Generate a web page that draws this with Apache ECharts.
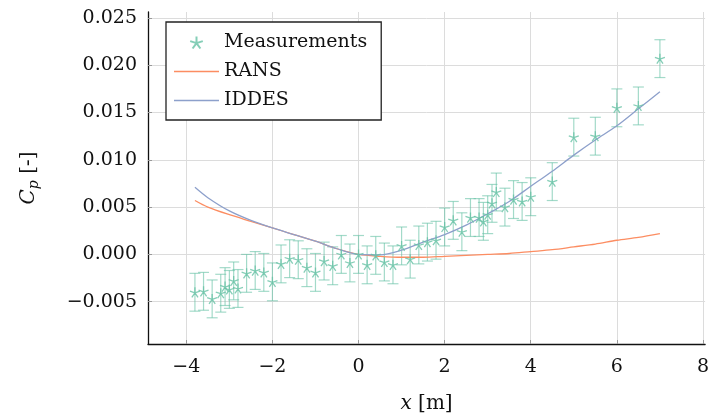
<!DOCTYPE html>
<html><head><meta charset="utf-8">
<script src="https://cdn.jsdelivr.net/npm/echarts@6/dist/echarts.min.js"></script>
<style>html,body{margin:0;padding:0;background:#fff}#c{width:712px;height:419px}</style>
</head><body><div id="c"></div>
<script>
// Measurements (x [m], Cp, error half-width)
const measX = [-3.8,-3.6,-3.4,-3.2,-3.1,-3.0,-2.9,-2.8,-2.6,-2.4,-2.2,-2.0,-1.8,-1.6,-1.4,-1.2,-1.0,-0.8,-0.6,-0.4,-0.2,0.0,0.2,0.4,0.6,0.8,1.0,1.2,1.4,1.6,1.8,2.0,2.2,2.4,2.6,2.8,2.9,3.0,3.1,3.2,3.4,3.6,3.8,4.0,4.5,5.0,5.5,6.0,6.5,7.0];
const measY = [-0.0040,-0.0039,-0.0047,-0.0041,-0.0034,-0.0037,-0.0028,-0.0036,-0.0020,-0.0017,-0.0019,-0.0029,-0.0010,-0.00045,-0.00056,-0.0014,-0.0019,-0.0007,-0.0012,0.0000,-0.0009,0.0000,-0.0011,-0.0001,-0.0008,-0.0011,0.0009,-0.0005,0.0010,0.0013,0.0015,0.0029,0.0036,0.0024,0.0039,0.0039,0.0035,0.0042,0.0054,0.0066,0.0050,0.0058,0.0056,0.0061,0.0077,0.0124,0.0125,0.0155,0.0157,0.0207];
const measErr = [0.002,0.002,0.002,0.002,0.002,0.002,0.002,0.002,0.002,0.002,0.002,0.002,0.002,0.002,0.002,0.002,0.002,0.002,0.002,0.002,0.002,0.002,0.002,0.002,0.002,0.002,0.002,0.002,0.002,0.002,0.002,0.002,0.002,0.002,0.002,0.002,0.002,0.002,0.002,0.002,0.002,0.002,0.002,0.002,0.002,0.002,0.002,0.002,0.002,0.002];
// Simulations
const simX  = [-3.8,-3.5,-3.0,-2.5,-2.0,-1.5,-1.0,-0.5,0,0.5,1,1.5,2,2.5,3,3.5,4,4.5,5,5.5,6,6.5,7];
const rans  = [0.0057,0.0050,0.0042,0.0035,0.0028,0.0021,0.0014,0.0006,0.0000,-0.0002,-0.0003,-0.0003,-0.0002,-0.0001,0.0000,0.0001,0.0003,0.0005,0.0008,0.0011,0.0015,0.0018,0.0022];
const iddes = [0.0071,0.0060,0.0046,0.0036,0.0028,0.0021,0.0014,0.0006,0.0000,-0.00005,0.00045,0.0013,0.0021,0.0031,0.0043,0.0056,0.0072,0.0088,0.0105,0.0121,0.0136,0.0154,0.0172];
// Ticks
const xTicks = [-4,-2,0,2,4,6,8];
const yTicks = [-0.005,0,0.005,0.01,0.015,0.02,0.025];

const FONT = 'DejaVu Serif';
const GREEN = '#66c2a5', ORANGE = '#fc8d62', BLUE = '#8da0cb';
const STAR = 'path://M0,-1L0,0M0.951,-0.309L0,0M0.588,0.809L0,0M-0.588,0.809L0,0M-0.951,-0.309L0,0';
const LINE_ICON = 'path://M0,0H45V1.3H0Z';

function fmtNum(v, d) {
  const s = Math.abs(v).toFixed(d);
  return (v < -1e-12 ? '\u2212' : '') + s;
}

const chart = echarts.init(document.getElementById('c'), null, {renderer: 'canvas'});
chart.setOption({
  animation: false,
  backgroundColor: '#fff',
  grid: {left: 148, right: 3, top: 12, bottom: 75, containLabel: false},
  legend: {
    orient: 'vertical', left: 166, top: 22,
    data: [
      {name: 'Measurements'},
      {name: 'RANS', icon: LINE_ICON},
      {name: 'IDDES', icon: LINE_ICON}
    ],
    itemWidth: 45, itemHeight: 12, itemGap: 10,
    padding: [11, 14, 10, 8],
    borderColor: '#222', borderWidth: 1.3,
    backgroundColor: '#fff',
    selectedMode: false,
    textStyle: {fontFamily: FONT, fontSize: 19, color: '#111'}
  },
  xAxis: {
    type: 'value', min: -4.89, max: 8.05,
    axisLine: {onZero: false, lineStyle: {color: '#111', width: 1.3}},
    axisTick: {show: true, inside: true, length: 4, customValues: xTicks, lineStyle: {color: '#999'}},
    axisLabel: {customValues: xTicks, formatter: v => fmtNum(v, 0), fontFamily: FONT, fontSize: 19, color: '#111', margin: 14},
    splitLine: {show: true, lineStyle: {color: '#dcdcdc', width: 1}},
    name: '{i|x} [m]', nameLocation: 'middle', nameGap: 50,
    nameTextStyle: {fontFamily: FONT, fontSize: 20, color: '#111', rich: {i: {fontFamily: FONT, fontSize: 20, fontStyle: 'italic', color: '#111'}}}
  },
  yAxis: {
    type: 'value', min: -0.00947, max: 0.02563,
    axisLine: {show: true, onZero: false, lineStyle: {color: '#111', width: 1.3}},
    axisTick: {show: true, inside: true, length: 4, customValues: yTicks, lineStyle: {color: '#999'}},
    axisLabel: {customValues: yTicks, formatter: v => fmtNum(v, 3), fontFamily: FONT, fontSize: 19, color: '#111', margin: 11},
    splitLine: {show: true, lineStyle: {color: '#dcdcdc', width: 1}},
    name: '{i|C}{s|p} [-]', nameLocation: 'middle', nameGap: 107, nameRotate: 90,
    nameTextStyle: {fontFamily: FONT, fontSize: 20, color: '#111', rich: {
      i: {fontFamily: FONT, fontSize: 20, fontStyle: 'italic', color: '#111'},
      s: {fontFamily: FONT, fontSize: 14, fontStyle: 'italic', color: '#111', padding: [10, 0, 0, 0]}
    }}
  },
  series: [
    {
      type: 'custom', name: 'errbars', silent: true, z: 1,
      data: measX.map((x, i) => [x, measY[i], measErr[i]]),
      encode: {x: 0, y: 1},
      renderItem: (params, api) => {
        const x = api.value(0), y = api.value(1), e = api.value(2);
        const t = api.coord([x, y + e]), b = api.coord([x, y - e]);
        const w = 5.5;
        const st = {stroke: 'rgba(102,194,165,0.6)', lineWidth: 1.2};
        return {type: 'group', children: [
          {type: 'line', shape: {x1: t[0], y1: t[1], x2: b[0], y2: b[1]}, style: st},
          {type: 'line', shape: {x1: t[0] - w, y1: t[1], x2: t[0] + w, y2: t[1]}, style: st},
          {type: 'line', shape: {x1: b[0] - w, y1: b[1], x2: b[0] + w, y2: b[1]}, style: st}
        ]};
      }
    },
    {
      type: 'scatter', name: 'Measurements', z: 3,
      data: measX.map((x, i) => [x, measY[i]]),
      symbol: STAR, symbolSize: 10,
      itemStyle: {color: 'rgba(0,0,0,0)', borderColor: GREEN, borderWidth: 1.3}
    },
    {
      type: 'line', name: 'RANS', z: 2,
      data: simX.map((x, i) => [x, rans[i]]),
      symbol: 'none', smooth: 0.3,
      lineStyle: {color: ORANGE, width: 1.3}, itemStyle: {color: ORANGE}
    },
    {
      type: 'line', name: 'IDDES', z: 2,
      data: simX.map((x, i) => [x, iddes[i]]),
      symbol: 'none', smooth: 0.3,
      lineStyle: {color: BLUE, width: 1.3}, itemStyle: {color: BLUE}
    }
  ]
});
</script></body></html>
